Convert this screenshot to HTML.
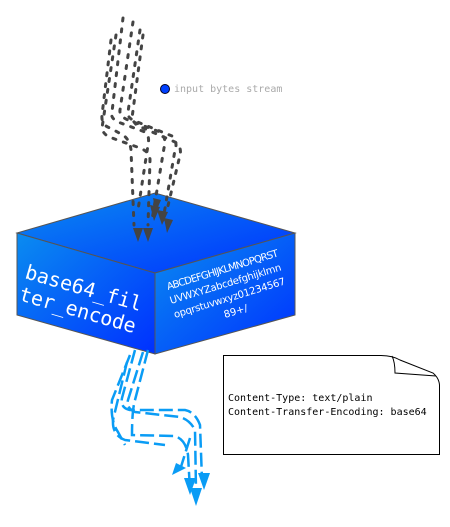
<!DOCTYPE html>
<html><head><style>body{margin:0;background:#fff}svg{display:block}</style></head><body>
<svg width="450" height="527" viewBox="0 0 450 527" xmlns="http://www.w3.org/2000/svg">
<defs>
<linearGradient id="g" x1="0" y1="0" x2="1" y2="1"><stop offset="0" stop-color="#0a8cf0"/><stop offset="1" stop-color="#0030ff"/></linearGradient>
</defs>
<polygon points="17,233 155,193 295,233 155,273" fill="url(#g)" stroke="#555" stroke-width="1"/>
<polygon points="17,233 155,273 155,354 17,315" fill="url(#g)" stroke="#555" stroke-width="1"/>
<polygon points="155,273 295,233 295,315 155,354" fill="url(#g)" stroke="#555" stroke-width="1"/>
<text transform="translate(24,278) rotate(16)" font-family="DejaVu Sans Mono, monospace" font-size="20" fill="#fff">base64_fil</text>
<text transform="translate(18,300) rotate(16)" font-family="DejaVu Sans Mono, monospace" font-size="20" fill="#fff">ter_encode</text>
<g font-family="DejaVu Sans, sans-serif" font-size="10" fill="#fff">
<text transform="translate(168,290) rotate(-17)" textLength="116">ABCDEFGHIJKLMNOPQRST</text>
<text transform="translate(171,304) rotate(-17)" textLength="116">UVWXYZabcdefghijklmn</text>
<text transform="translate(175,318) rotate(-17)" textLength="116">opqrstuvwxyz01234567</text>
<text transform="translate(225,318) rotate(-17)">89+/</text>
</g>
<g fill="none" stroke="#444" stroke-width="3" stroke-linecap="round" stroke-dasharray="3,8">
<path d="M123,18 L112,112 Q110,118 118,122 L145,132 Q150,136 148,145 L138,210"/>
<path d="M133,22 L120,110 Q119,116 128,120 L160,132 Q167,138 164,148 L152,220"/>
<path d="M140,30 L128,112 Q127,118 135,121 L172,136 Q178,142 175,150 L163,220"/>
<path d="M111,40 L102,115 Q101,125 110,128 L123,135 Q130,140 131,150 L134,225"/>
<path d="M116,35 L102,128 Q103,135 112,138 L140,148 Q150,152 150,160 L148,225"/>
<path d="M143,35 L132,118 Q135,126 143,128 L175,142 Q182,147 180,155 L167,210"/>
</g>
<g fill="#444">
<path d="M133,228 l5,14 l5,-14z"/><path d="M143,228 l5,14 l5,-14z"/>
<path d="M150,205 l4,16 l6,-14z"/><path d="M157,210 l5,15 l6,-13z"/><path d="M164,218 l3,15 l6,-13z"/><path d="M153,198 l3,14 l5,-12z"/>
</g>
<circle cx="165" cy="89" r="4.5" fill="#0040ff" stroke="#002" stroke-width="1"/>
<text x="174" y="92" font-family="DejaVu Sans Mono, monospace" font-size="10" fill="#aaa">input bytes stream</text>
<g fill="none" stroke="#0a9cf5" stroke-width="2.5" stroke-dasharray="14,5">
<path d="M135,350 L122,398 Q120,408 130,410 L185,410 Q195,412 200,425 L202,480"/>
<path d="M143,352 L128,400 Q126,408 135,412 L180,417 Q190,420 195,430 L196,490"/>
<path d="M130,355 L112,400 Q110,420 118,432 L125,445"/>
<path d="M148,350 L135,400 Q132,410 132,435 L175,436 Q186,440 188,455 L190,490"/>
<path d="M127,362 L113,420 Q112,435 125,440 L165,445"/>
<path d="M190,438 L180,470"/>
</g>
<g fill="#0a9cf5">
<path d="M172,475 l4,-12 l10,5z"/><path d="M184,478 l6,17 l6,-17z"/><path d="M190,488 l6,18 l6,-18z"/><path d="M198,473 l6,17 l6,-17z"/>
</g>
<path d="M223.5,355.5 L377,355.5 Q392,355 400,360 L433,373 Q439,378 439.5,385 L439.5,454.5 L223.5,454.5z" fill="#fff" stroke="#000" stroke-width="1"/>
<path d="M392,356 Q395,362 395,373 L436,376" fill="none" stroke="#000" stroke-width="1"/>
<g font-family="DejaVu Sans Mono, monospace" font-size="10" fill="#000">
<text x="228" y="401">Content-Type: text/plain</text>
<text x="228" y="415">Content-Transfer-Encoding: base64</text>
</g>
</svg>
</body></html>
